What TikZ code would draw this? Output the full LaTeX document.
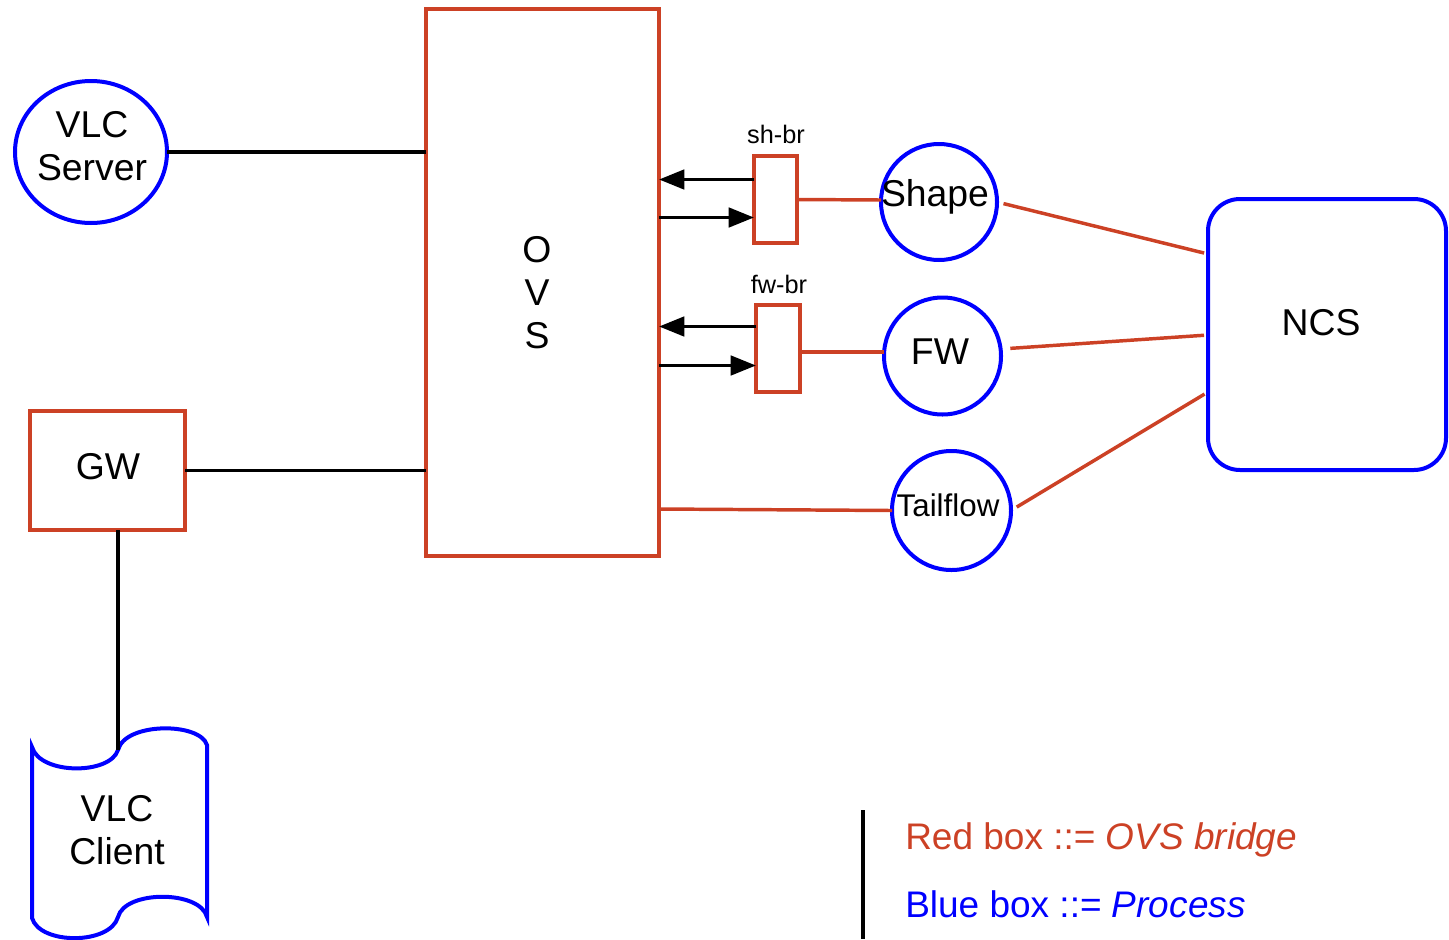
\documentclass[tikz,border=0pt]{standalone}
\usepackage{fontspec}
\setmainfont{Liberation Sans}
\usetikzlibrary{shapes.geometric,arrows.meta}
\definecolor{ovsred}{HTML}{CC4125}
\definecolor{procblue}{HTML}{0000FF}
\begin{document}
\begin{tikzpicture}[x=0.75pt,y=-0.75pt,
  bigtext/.style={font=\fontsize{28pt}{32.25pt}\selectfont,align=center,text=black},
  smalltext/.style={font=\fontsize{19pt}{22pt}\selectfont,text=black},
  redbox/.style={draw=ovsred,line width=2.6pt,rectangle,inner sep=0pt,outer sep=0pt},
  proc/.style={draw=procblue,line width=3pt,circle,inner sep=0pt,outer sep=0pt},
  blackline/.style={draw=black,line width=2.8pt},
  redline/.style={draw=ovsred,line width=2.6pt},
  arr/.style={blackline,-{Triangle[length=19pt,width=14.5pt]}}]
\useasboundingbox (0,0) rectangle (1449,939);

% OVS
\node[redbox,minimum width=174.75pt,minimum height=410.25pt] (ovs) at (542.5,282.5) {};
\node[bigtext] (ovstext) at (537,293) {O\\V\\S};

% VLC server
\node[draw=procblue,line width=3pt,ellipse,inner sep=0pt,outer sep=0pt,minimum width=114pt,minimum height=106.5pt] (vlcs) at (91,152) {};
\node[bigtext] (vlcstext) at (92,146) {VLC\\Server};

% GW
\node[redbox,minimum width=116.25pt,minimum height=89.25pt] (gw) at (107.5,470.5) {};
\node[bigtext] (gwtext) at (108,467) {GW};

% bridges
\node[redbox,minimum width=32.25pt,minimum height=65.25pt] (shbr) at (775.5,199.5) {};
\node[smalltext] (shbrlabel) at (776,134) {sh-br};
\node[redbox,minimum width=33pt,minimum height=65.25pt] (fwbr) at (778,348.5) {};
\node[smalltext] (fwbrlabel) at (779,284) {fw-br};

% processes
\node[proc,minimum size=87pt] (shape) at (939,202) {};
\node[bigtext] (shapetext) at (935,197) {Shape};
\node[proc,minimum size=87.75pt] (fw) at (942.5,356) {};
\node[bigtext] (fwtext) at (940,352) {FW};
\node[proc,minimum size=89.25pt] (tail) at (951.5,510.5) {};
\node[font=\fontsize{23.5pt}{28pt}\selectfont,text=black] (tailtext) at (948,505) {Tailflow};

% NCS
\node[draw=procblue,line width=3pt,rectangle,rounded corners=24pt,inner sep=0pt,outer sep=0pt,minimum width=178.5pt,minimum height=203.25pt] (ncs) at (1327,334.5) {};
\node[bigtext] (ncstext) at (1321,323) {NCS};

% VLC client
\draw[procblue,line width=3pt] (32,747) .. controls (40,775) and (110,775) .. (118,750)
  .. controls (125,722) and (200,722) .. (207,745) -- (207,917)
  .. controls (200,890) and (125,890) .. (118,917)
  .. controls (110,945) and (40,945) .. (32,918) -- cycle;
\coordinate (vlcctop) at (118,750);
\node[bigtext] (vlcc) at (117,830) {VLC\\Client};

% black connectors
\draw[blackline] (vlcs.east) -- (vlcs.east -| ovs.west);
\draw[blackline] (gw.east) -- (gw.east -| ovs.west);
\draw[blackline] (gw.south -| vlcctop) -- (vlcctop);

% arrows
\draw[arr] (shbr.west |- 0,179.5) -- (ovs.east |- 0,179.5);
\draw[arr] (ovs.east |- 0,217.5) -- (shbr.west |- 0,217.5);
\draw[arr] (fwbr.west |- 0,326.5) -- (ovs.east |- 0,326.5);
\draw[arr] (ovs.east |- 0,365.5) -- (fwbr.west |- 0,365.5);

% red connectors
\draw[redline] (shbr.east) -- (shape.west |- 0,200);
\draw[redline] (fwbr.east |- 0,352) -- (fw.west |- 0,352);
\draw[redline] (ovs.east |- 0,509) -- (tail.west);
\draw[redline,shorten <=5pt,shorten >=3pt] (shape.east) -- (ncs.west |- 0,254);
\draw[redline,shorten <=7pt,shorten >=3pt] (fw.east |- 0,349) -- (ncs.west |- 0,335);
\draw[redline,shorten <=5pt,shorten >=3pt] (tail.east) -- (ncs.west |- 0,392);

% legend
\coordinate (legtop) at (863,810);
\coordinate (legbot) at (863,939);
\draw[blackline] (legtop) -- (legbot);
\node[anchor=west,inner sep=0pt,font=\fontsize{27.75pt}{32pt}\selectfont,text=ovsred] (legred) at (905,840) {Red box ::= \textit{OVS bridge}};
\node[anchor=west,inner sep=0pt,font=\fontsize{27.75pt}{32pt}\selectfont,text=procblue] (legblue) at (905,904) {Blue box ::= \textit{Process}};
\end{tikzpicture}
\end{document}
